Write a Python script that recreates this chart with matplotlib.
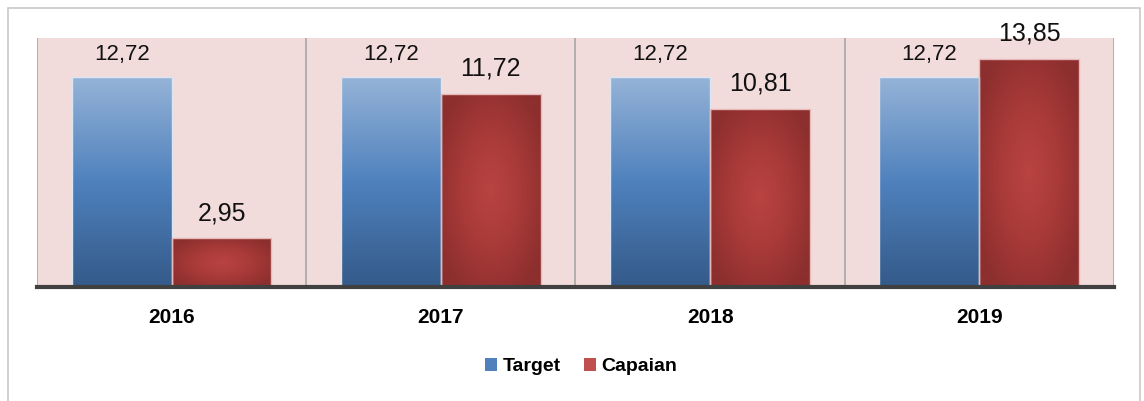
"""Target vs Capaian bar chart, 2016-2019."""

import matplotlib.pyplot as plt
import numpy as np
from matplotlib.patches import Rectangle
from matplotlib.colors import LinearSegmentedColormap

plt.rcParams['font.family'] = ['Liberation Sans Narrow', 'Liberation Sans', 'DejaVu Sans']

years = ['2016', '2017', '2018', '2019']
target = [12.72, 12.72, 12.72, 12.72]
capaian = [2.95, 11.72, 10.81, 13.85]
target_labels = ['12,72', '12,72', '12,72', '12,72']
capaian_labels = ['2,95', '11,72', '10,81', '13,85']

blue_cmap = LinearSegmentedColormap.from_list('blue', ['#345a89', '#4f81bd', '#95b3d7'])
red_cmap = LinearSegmentedColormap.from_list('red', ['#b94442', '#a83a38', '#8c2f2e'])

fig = plt.figure(figsize=(11.44, 4.01), dpi=100)
fig.patches.append(Rectangle((8 / 1144, -0.05), 1132 / 1144, 1 - 8 / 401 + 0.05,
                             transform=fig.transFigure, fill=False,
                             edgecolor='#c8c8c8', linewidth=1.2))
ax = fig.add_axes([0.0323, 0.2843, 0.9415, 0.6209])
ax.set_facecolor('#f2dcdb')

x = np.arange(len(years))
w = 0.371
bars_t = ax.bar(x - w / 2, target, w, facecolor='none', edgecolor='#dce6f2', linewidth=1, zorder=3)
bars_c = ax.bar(x + w / 2, capaian, w, facecolor='none', edgecolor='#e6b9b8', linewidth=1, zorder=3)

# gradient fills clipped to each bar
vert = np.linspace(0, 1, 256).reshape(-1, 1)
for b in bars_t:
    bx, by, bw, bh = b.get_x(), b.get_y(), b.get_width(), b.get_height()
    im = ax.imshow(vert, cmap=blue_cmap, extent=[bx, bx + bw, by, by + bh],
                   origin='lower', aspect='auto', zorder=2)
    im.set_clip_path(b)

uu, vv = np.meshgrid(np.linspace(-1, 1, 100), np.linspace(-1, 1, 200))
for b in bars_c:
    bx, by, bw, bh = b.get_x(), b.get_y(), b.get_width(), b.get_height()
    r = np.clip(np.sqrt(uu ** 2 + vv ** 2) / 1.2, 0, 1)
    im = ax.imshow(r, cmap=red_cmap, vmin=0, vmax=1, extent=[bx, bx + bw, by, by + bh],
                   origin='lower', aspect='auto', zorder=2)
    im.set_clip_path(b)

for b, lab in zip(bars_t, target_labels):
    ax.annotate(lab, (b.get_x() + b.get_width() / 2, b.get_height()), xytext=(0, 12.5),
                textcoords='offset points', ha='center', va='baseline', fontsize=16, color='#111111')
for b, lab in zip(bars_c, capaian_labels):
    ax.annotate(lab, (b.get_x() + b.get_width() / 2, b.get_height()), xytext=(0, 13),
                textcoords='offset points', ha='center', va='baseline', fontsize=18,
                color='#111111')

for i in range(len(years) + 1):
    ax.axvline(i - 0.5, color='#a6a6a6', linewidth=1.2, zorder=1)

ax.set_xlim(-0.5, len(years) - 0.5)
ax.set_ylim(0, 15.1)
ax.set_yticks([])
ax.set_xticks(x)
ax.set_xticklabels(years, fontsize=15, fontweight='bold')
ax.tick_params(axis='x', length=0, pad=15)
for s in ['top', 'left', 'right']:
    ax.spines[s].set_visible(False)
ax.spines['bottom'].set_color('#404040')
ax.spines['bottom'].set_linewidth(3)
ax.spines['bottom'].set_zorder(4)

handles = [Rectangle((0, 0), 1, 1, facecolor='#4f81bd'), Rectangle((0, 0), 1, 1, facecolor='#c0504d')]
fig.legend(handles, ['Target', 'Capaian'], loc='center', bbox_to_anchor=(0.508, 0.085),
           ncol=2, frameon=False, prop={'size': 14, 'weight': 'bold'},
           handlelength=0.6, handleheight=0.6, handletextpad=0.3, columnspacing=1.2)

plt.savefig('out.png', dpi=100)
